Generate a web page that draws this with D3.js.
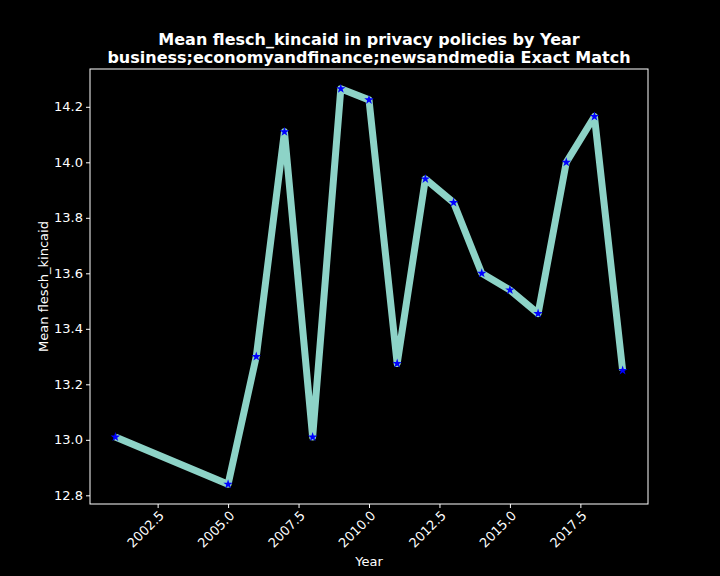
<!DOCTYPE html>
<html><head><meta charset="utf-8">
<script src="https://cdn.jsdelivr.net/npm/d3@7"></script>
<style>body{margin:0;background:#000}</style>
</head><body>
<svg id="chart" width="720" height="576"></svg>
<script>
const years = [2001, 2005, 2006, 2007, 2008, 2009, 2010, 2011, 2012, 2013, 2014, 2015, 2016, 2017, 2018, 2019];
const means = [13.01, 12.84, 13.30, 14.11, 13.01, 14.265, 14.225, 13.275, 13.94, 13.855, 13.60, 13.54, 13.455, 14.00, 14.165, 13.25];
const xTicks = [2002.5, 2005, 2007.5, 2010, 2012.5, 2015, 2017.5];
const yTicks = [12.8, 13.0, 13.2, 13.4, 13.6, 13.8, 14.0, 14.2];

const svg = d3.select("#chart");
const m = {left: 90, right: 648, top: 69, bottom: 504};
const font = "DejaVu Sans, sans-serif";

const xPad = (d3.max(years) - d3.min(years)) * 0.05;
const x = d3.scaleLinear().domain([d3.min(years) - xPad, d3.max(years) + xPad]).range([m.left, m.right]);
const yPad = (d3.max(means) - d3.min(means)) * 0.05;
const y = d3.scaleLinear().domain([d3.min(means) - yPad, d3.max(means) + yPad]).range([m.bottom, m.top]);

svg.append("rect").attr("width", 720).attr("height", 576).attr("fill", "#000");

// line
svg.append("path")
    .datum(years.map((d, i) => [d, means[i]]))
    .attr("fill", "none")
    .attr("stroke", "#8dd3c7")
    .attr("stroke-width", 7)
    .attr("stroke-linejoin", "round")
    .attr("d", d3.line().x(d => x(d[0])).y(d => y(d[1])));

// star markers
svg.selectAll(".pt")
    .data(years)
    .enter().append("path")
    .attr("d", d3.symbol().type(d3.symbolStar).size(28))
    .attr("transform", (d, i) => `translate(${x(d)},${y(means[i])})`)
    .attr("fill", "#0000ff");

// frame
svg.append("rect")
    .attr("x", m.left).attr("y", m.top)
    .attr("width", m.right - m.left).attr("height", m.bottom - m.top)
    .attr("fill", "none").attr("stroke", "#fff").attr("stroke-width", 1);

// x axis
const xAxis = svg.append("g")
    .attr("transform", `translate(0,${m.bottom})`)
    .call(d3.axisBottom(x).tickValues(xTicks).tickFormat(d3.format(".1f")).tickSize(4));
xAxis.select(".domain").remove();
xAxis.selectAll("line").attr("stroke", "#fff");
xAxis.selectAll("text")
    .attr("fill", "#fff").attr("font-size", 13).attr("font-family", font)
    .attr("text-anchor", "end")
    .attr("transform", "rotate(-45)")
    .attr("dx", "-0.3em").attr("dy", "0.5em");

// y axis
const yAxis = svg.append("g")
    .attr("transform", `translate(${m.left},0)`)
    .call(d3.axisLeft(y).tickValues(yTicks).tickFormat(d3.format(".1f")).tickSize(4));
yAxis.select(".domain").remove();
yAxis.selectAll("line").attr("stroke", "#fff");
yAxis.selectAll("text").attr("fill", "#fff").attr("font-size", 13).attr("font-family", font);

// labels
svg.append("text").attr("x", (m.left + m.right) / 2).attr("y", 566)
    .attr("text-anchor", "middle").attr("fill", "#fff").attr("font-size", 13).attr("font-family", font)
    .text("Year");
svg.append("text").attr("transform", `translate(48,${(m.top + m.bottom) / 2}) rotate(-90)`)
    .attr("text-anchor", "middle").attr("fill", "#fff").attr("font-size", 13).attr("font-family", font)
    .text("Mean flesch_kincaid");

const title = ["Mean flesch_kincaid in privacy policies by Year", "business;economyandfinance;newsandmedia Exact Match"];
svg.selectAll(".title")
    .data(title)
    .enter().append("text")
    .attr("x", (m.left + m.right) / 2 - 0)
    .attr("y", (d, i) => 45 + i * 18)
    .attr("text-anchor", "middle").attr("fill", "#fff")
    .attr("font-size", 16).attr("font-weight", "bold").attr("font-family", font)
    .text(d => d);
</script>
</body></html>
